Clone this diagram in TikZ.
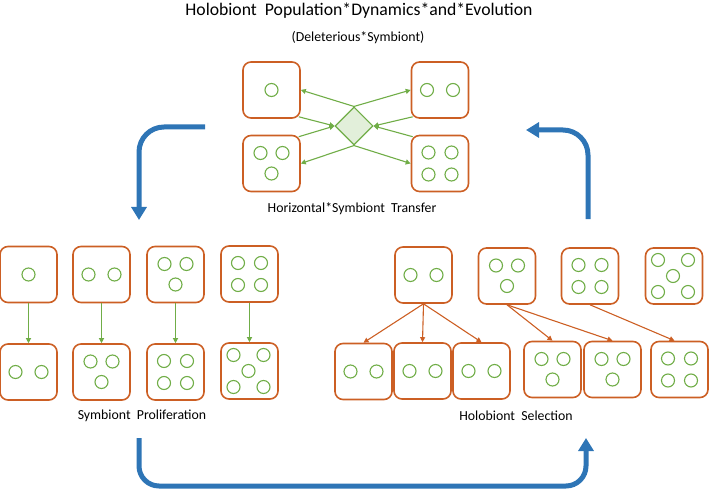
\documentclass[tikz,border=0pt]{standalone}
\usepackage{fontspec}
\setmainfont{Carlito}
\usetikzlibrary{shapes.geometric,arrows.meta,calc}
\definecolor{hOrange}{RGB}{204,95,36}
\definecolor{hGreen}{RGB}{112,173,71}
\definecolor{hFill}{RGB}{226,239,218}
\definecolor{hBlue}{RGB}{46,117,182}
\newcommand\symOne[1]{\draw[symc] (#1) circle[radius=6.5];}
\newcommand\symTwo[1]{\foreach \dx in {-13,13}{\draw[symc] ($(#1)+(\dx,0)$) circle[radius=6.5];}}
\newcommand\symThree[1]{\foreach \dx/\dy in {-11/-10.5,11/-10.5,0/10}{\draw[symc] ($(#1)+(\dx,\dy)$) circle[radius=6.5];}}
\newcommand\symFour[1]{\foreach \dx/\dy in {-11.5/-11,11.5/-11,-11.5/11,11.5/11}{\draw[symc] ($(#1)+(\dx,\dy)$) circle[radius=6.5];}}
\newcommand\symFive[1]{\foreach \dx/\dy in {-16/-16,14/-16,-1/0,-16/16,14/16}{\draw[symc] ($(#1)+(\dx,\dy)$) circle[radius=6.5];}}
\begin{document}
\begin{tikzpicture}[x=1pt,y=-1pt,
  hbox/.style={draw=hOrange,line width=1.6pt,rounded corners=8pt,minimum width=57pt,minimum height=56pt,inner sep=0pt},
  symc/.style={draw=hGreen,line width=1.1pt},
  garrow/.style={draw=hGreen,line width=1.1pt,-{Triangle[length=5pt,width=5pt]}},
  oarrow/.style={draw=hOrange,line width=1.1pt,-{Triangle[length=5pt,width=5pt]}},
  barrow/.style={draw=hBlue,line width=5pt,-{Triangle[length=13pt,width=15pt]}},
  lbl/.style={font=\fontsize{13.8}{16}\selectfont,text=black,inner sep=0pt}]
\useasboundingbox (0,0) rectangle (709,489);

% titles
\node[font=\fontsize{17.7}{20}\selectfont,text=black,inner sep=0pt] (title) at (359,11) {Holobiont~ Population*Dynamics*and*Evolution};
\node[lbl] (sub) at (358,38) {(Deleterious*Symbiont)};
\node[lbl] (hst) at (352,209) {Horizontal*Symbiont~ Transfer};
\node[lbl] (sp) at (142,416) {Symbiont~ Proliferation};
\node[lbl] (hs) at (516,416) {Holobiont~ Selection};

% top cluster
\node[hbox] (TL) at (271.5,90) {};
\node[hbox] (TR) at (440,90) {};
\node[hbox] (BL) at (271.5,163.5) {};
\node[hbox] (BR) at (440,163.5) {};
\symOne{TL}\symTwo{TR}\symThree{BL}\symFour{BR}
\node[diamond,draw=hGreen,fill=hFill,line width=1.1pt,minimum size=38pt,inner sep=0pt] (D) at (354,126) {};
\draw[garrow] (D.north) -- (TL.east);
\draw[garrow] (D.north) -- (TR.west);
\draw[garrow] (D.south) -- (BL.east);
\draw[garrow] (D.south) -- (BR.west);
\draw[garrow] ($(TL.south east)+(-2,-2)$) -- (D.west);
\draw[garrow] ($(BL.north east)+(-2,2)$) -- (D.west);
\draw[garrow] ($(TR.south west)+(2,-2)$) -- (D.east);
\draw[garrow] ($(BR.north west)+(2,2)$) -- (D.east);

% left section
\node[hbox] (B1) at (28.5,274.5) {};
\node[hbox] (B2) at (101.5,274.5) {};
\node[hbox] (B3) at (175.5,274.5) {};
\node[hbox] (B4) at (249.5,274) {};
\node[hbox] (C1) at (28.5,372) {};
\node[hbox] (C2) at (101.5,372) {};
\node[hbox] (C3) at (175.5,372) {};
\node[hbox] (C4) at (249.5,371) {};
\symOne{B1}\symTwo{B2}\symThree{B3}\symFour{B4}
\symTwo{C1}\symThree{C2}\symFour{C3}\symFive{C4}
\foreach \i in {1,2,3,4}{\draw[garrow] (B\i.south) -- (C\i.north);}

% right section
\node[hbox] (D1) at (423.5,275) {};
\node[hbox] (D2) at (507,276) {};
\node[hbox] (D3) at (590,276) {};
\node[hbox] (D4) at (674,276) {};
\node[hbox] (E1) at (363.5,371.5) {};
\node[hbox] (E2) at (422.5,371) {};
\node[hbox] (E3) at (481.5,371) {};
\node[hbox] (E4) at (552.5,369.5) {};
\node[hbox] (E5) at (612.5,369.5) {};
\node[hbox] (E6) at (679.5,369.5) {};
\symTwo{D1}\symThree{D2}\symFour{D3}\symFive{D4}
\symTwo{E1}\symTwo{E2}\symTwo{E3}\symThree{E4}\symThree{E5}\symFour{E6}
\draw[oarrow] (D1.south) -- (E1.north);
\draw[oarrow] (D1.south) -- (E2.north);
\draw[oarrow] (D1.south) -- (E3.north);
\draw[oarrow] (D2.south) -- (E4.north);
\draw[oarrow] (D2.south) -- (E5.north);
\draw[oarrow] (D3.south) -- ($(E6.north)+(-5,0)$);

% blue cycle arrows
\coordinate (a1s) at (205,127);
\coordinate (a1e) at (139,220);
\coordinate (a2s) at (588,219);
\coordinate (a2e) at (526,130);
\coordinate (a3s) at (139,438);
\coordinate (a3m) at (362,486);
\coordinate (a3e) at (586,438);
\draw[barrow,rounded corners=25pt] (a1s) -| (a1e);
\draw[barrow,rounded corners=25pt] (a2s) |- (a2e);
\draw[barrow,rounded corners=20pt] (a3s) |- (a3m) -| (a3e);
\end{tikzpicture}
\end{document}
